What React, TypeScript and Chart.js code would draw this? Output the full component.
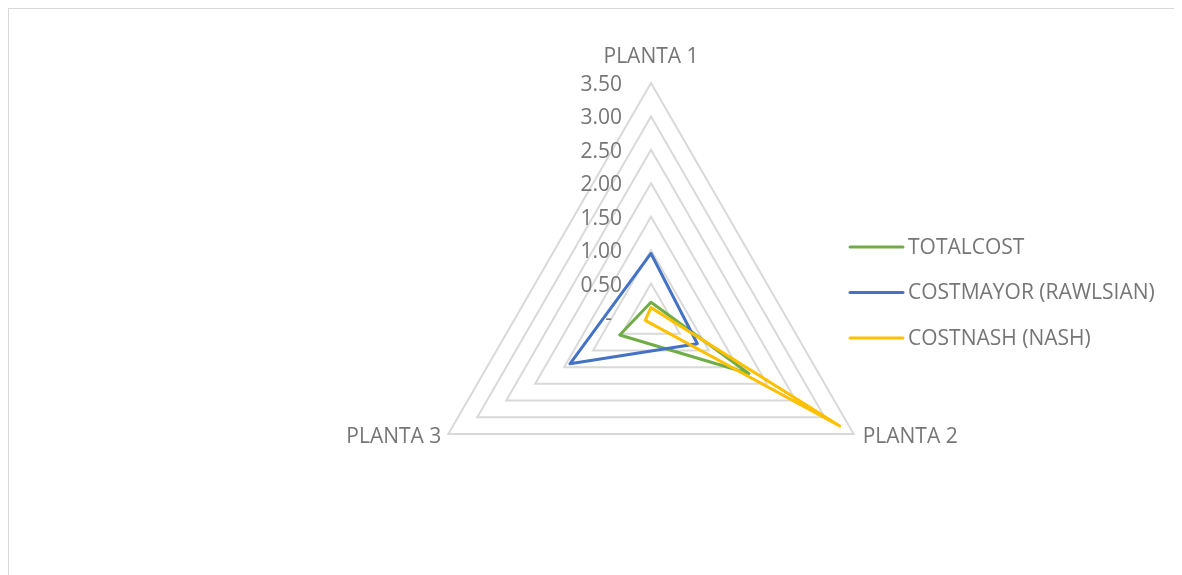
import React, { useEffect, useRef } from "react";
import { Chart, registerables } from "chart.js";

Chart.register(...registerables);

const categories = ["PLANTA 1", "PLANTA 2", "PLANTA 3"];
const totalCost = [0.22, 1.69, 0.54];
const costMayor = [0.95, 0.8, 1.4];
const costNash = [0.14, 3.26, 0.1];
const seriesNames = ["TOTALCOST", "COSTMAYOR (RAWLSIAN)", "COSTNASH (NASH)"];
const seriesColors = ["#70ad47", "#4472c4", "#ffc000"];
const tickValues = [0, 0.5, 1, 1.5, 2, 2.5, 3, 3.5];
const tickLabels = ["-", "0.50", "1.00", "1.50", "2.00", "2.50", "3.00", "3.50"];

const FONT = '21px "Open Sans"';
const TEXT_COLOR = "#767676";

const excelLabels = {
  id: "excelLabels",
  afterDraw(chart: any) {
    const scale = chart.scales.r;
    const ctx = chart.ctx as CanvasRenderingContext2D;
    const R = scale.drawingArea;
    ctx.save();
    ctx.font = FONT;
    ctx.fillStyle = TEXT_COLOR;
    ctx.textBaseline = "middle";

    // radial tick labels, left of the vertical axis
    ctx.textAlign = "right";
    tickValues.forEach((v, i) => {
      const d = scale.getDistanceFromCenterForValue(v);
      const x = scale.xCenter - (i === 0 ? 39 : 29);
      ctx.fillText(tickLabels[i], x, scale.yCenter - d + 2);
    });

    // point labels
    const p0 = scale.getPointPosition(0, R);
    ctx.textAlign = "center";
    ctx.fillText(categories[0], p0.x, p0.y - 26);
    const p1 = scale.getPointPosition(1, R);
    ctx.textAlign = "left";
    ctx.fillText(categories[1], p1.x + 9, p1.y + 3);
    const p2 = scale.getPointPosition(2, R);
    ctx.textAlign = "right";
    ctx.fillText(categories[2], p2.x - 7, p2.y + 3.5);

    // legend
    const lx = 842;
    const ly = [239, 284.5, 330];
    ctx.textAlign = "left";
    seriesNames.forEach((name, i) => {
      ctx.strokeStyle = seriesColors[i];
      ctx.lineWidth = 3;
      ctx.lineCap = "round";
      ctx.beginPath();
      ctx.moveTo(lx, ly[i]);
      ctx.lineTo(lx + 53, ly[i]);
      ctx.stroke();
      ctx.fillText(name, lx + 58, ly[i] + 1);
    });
    ctx.restore();
  },
};

export default function App() {
  const ref = useRef<HTMLCanvasElement>(null);
  useEffect(() => {
    document.documentElement.style.overflow = "hidden";
    document.body.style.overflow = "hidden";
    const series = [totalCost, costMayor, costNash];
    const chart = new Chart(ref.current as HTMLCanvasElement, {
      type: "radar",
      data: {
        labels: categories,
        datasets: series.map((d, i) => ({
          label: seriesNames[i],
          data: d,
          borderColor: seriesColors[i],
          backgroundColor: seriesColors[i],
          borderWidth: 3,
          borderJoinStyle: "round" as const,
          fill: false,
          pointRadius: 0,
          pointHoverRadius: 0,
          order: 3 - i,
        })),
      },
      options: {
        responsive: false,
        animation: false,
        layout: { padding: { top: 75, bottom: 16, left: 293, right: 181 } },
        plugins: {
          legend: { display: false },
          tooltip: { enabled: false },
        },
        scales: {
          r: {
            min: 0,
            max: 3.5,
            ticks: { stepSize: 0.5, display: false },
            grid: { color: "#d9d9d9", lineWidth: 2, circular: false },
            angleLines: { display: false },
            pointLabels: { display: false },
          },
        },
      },
      plugins: [excelLabels],
    });
    return () => chart.destroy();
  }, []);
  return (
    <div
      style={{
        position: "relative",
        width: 1190,
        height: 580,
        borderTop: "1px solid #d9d9d9",
        borderLeft: "1px solid #d9d9d9",
        boxSizing: "border-box",
      }}
    >
      <canvas
        ref={ref}
        width={1174}
        height={559}
        style={{ position: "absolute", left: -1, top: -1, width: 1174, height: 559 }}
      />
    </div>
  );
}
